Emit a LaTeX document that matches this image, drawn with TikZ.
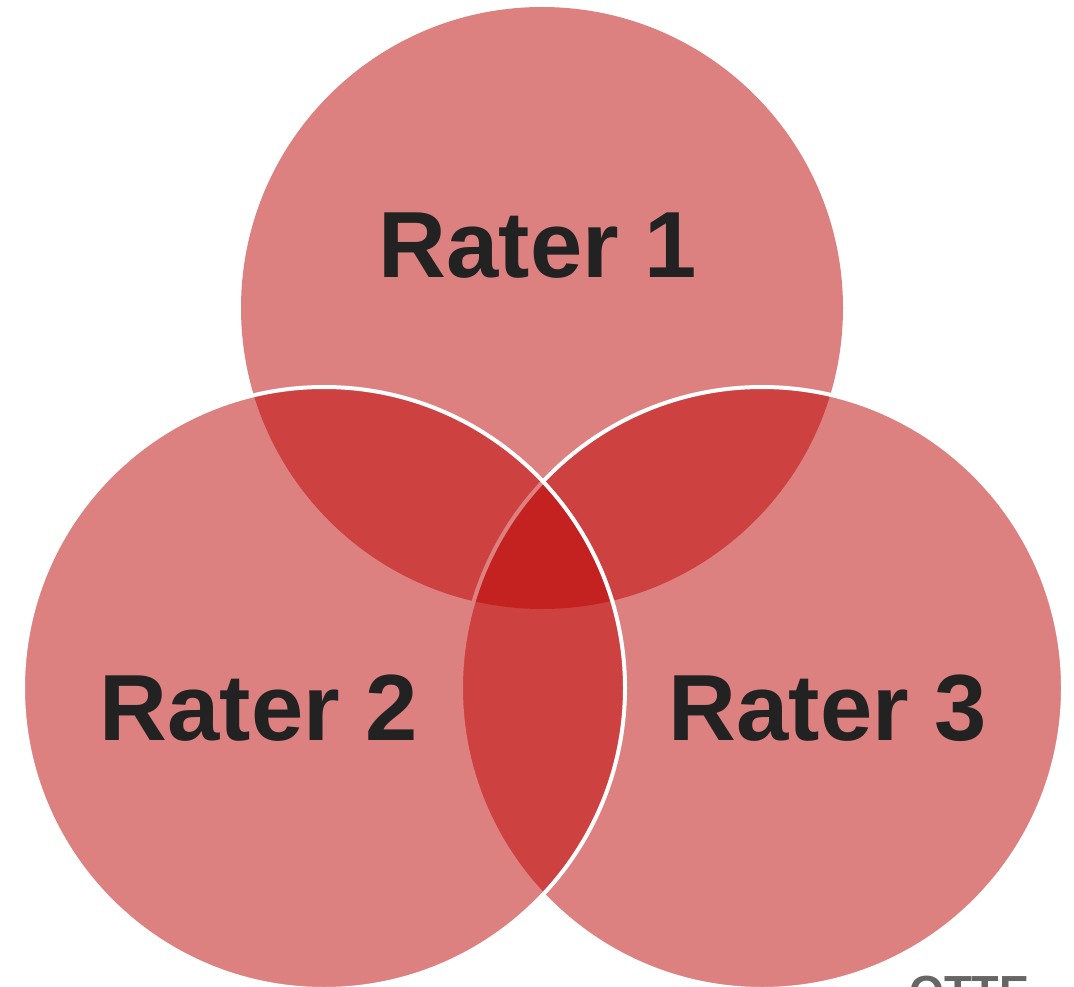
\documentclass[tikz,border=0pt]{standalone}
\usepackage{fontspec}
\setmainfont{Liberation Sans}
\usepackage{xcolor}
\usetikzlibrary{positioning}
\definecolor{raterred}{RGB}{188,2,2}
\definecolor{labelgray}{RGB}{34,34,34}
\definecolor{logogray}{RGB}{102,102,102}

\begin{document}
\begin{tikzpicture}[
    x=1pt, y=-1pt,
    rater/.style={circle, inner sep=0pt, minimum size=602pt, fill=raterred, fill opacity=0.5},
    edge/.style={draw=white, line width=4pt, draw opacity=1},
    label/.style={anchor=base, text=labelgray, font=\fontsize{94}{94}\selectfont\bfseries}
]
    \useasboundingbox (0,0) rectangle (1074,987);

    % circles, drawn in this order so the white rims overlap as in the chart
    \node[rater] (r1) at (542,308) {};
    \node[rater, edge] (r3) at (762,688) {};
    \node[rater, edge] (r2) at (324,688) {};

    \node[label] (t1) at (538,278) {Rater 1};
    \node[label] (t2) at (259,740) {Rater 2};
    \node[label] (t3) at (828,740) {Rater 3};

    % cropped logo at the lower right
    \node[anchor=base west, inner sep=0pt, text=logogray, font=\fontsize{45}{45}\selectfont\bfseries] (logo) at (909,1007) {OTTE};
\end{tikzpicture}
\end{document}
